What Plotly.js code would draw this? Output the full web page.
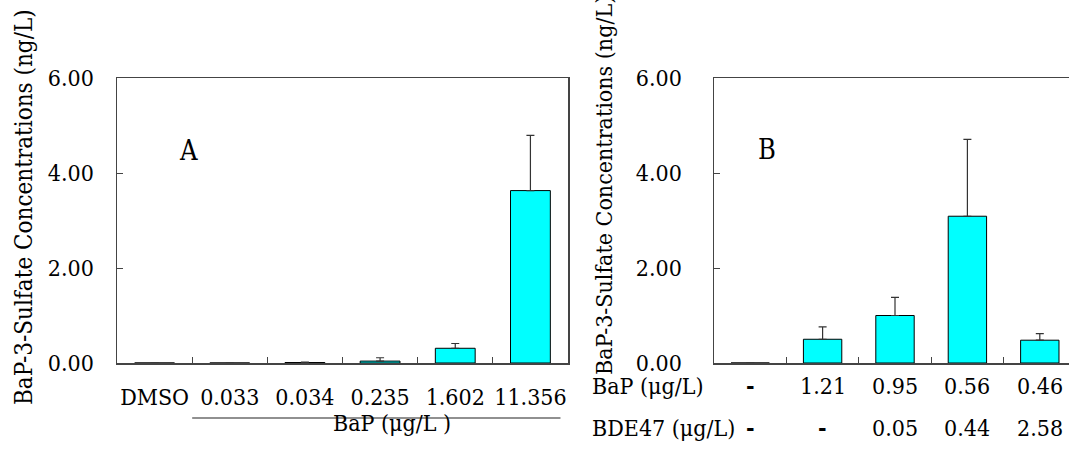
<!DOCTYPE html>
<html>
<head>
<meta charset="utf-8">
<script src="https://cdn.plot.ly/plotly-3.0.1.min.js"></script>
<style>html,body{margin:0;padding:0;background:#fff;}#chart{width:1069px;height:455px;}</style>
</head>
<body>
<div id="chart"></div>
<script>
// Panel A data
const catsA = ["DMSO", "0.033", "0.034", "0.235", "1.602", "11.356"];
const valsA = [0, 0, 0.01, 0.04, 0.31, 3.63];
const errA  = [0, 0, 0.01, 0.07, 0.10, 1.16];

// Panel B data
const bapB   = ["-", "1.21", "0.95", "0.56", "0.46"];
const bdeB   = ["-", "-", "0.05", "0.44", "2.58"];
const valsB  = [0, 0.50, 1.00, 3.09, 0.48];
const errB   = [0, 0.26, 0.38, 1.62, 0.14];

const yTicks = [0, 2, 4, 6];
const yTitle = "BaP-3-Sulfate Concentrations (ng/L)";

const FONT = 'DejaVu Serif Condensed, DejaVu Serif';
const AXC = '#444444';

const idxA = catsA.map((_, i) => i);
const idxB = bapB.map((_, i) => i);

const barStyle = {color: '#00FFFF', line: {color: '#000000', width: 1}};

const traces = [
  {
    type: 'bar', x: idxA, y: valsA, width: 0.53, marker: barStyle,
    error_y: {type: 'data', array: errA, arrayminus: errA.map(() => 0), symmetric: false,
              color: '#333333', thickness: 1.2, width: 4},
    xaxis: 'x', yaxis: 'y', showlegend: false, hoverinfo: 'skip'
  },
  {
    type: 'bar', x: idxB, y: valsB, width: 0.53, marker: barStyle,
    error_y: {type: 'data', array: errB, arrayminus: errB.map(() => 0), symmetric: false,
              color: '#333333', thickness: 1.2, width: 4},
    xaxis: 'x2', yaxis: 'y2', showlegend: false, hoverinfo: 'skip'
  }
];

const H = 455, W = 1069;
const px = v => v / W;
const py = v => (H - v) / H;

const txt = (size) => ({family: FONT, size: size, color: '#000'});

const yCommon = {
  range: [0, 6], tickvals: yTicks, tickformat: '.2f',
  ticks: 'inside', ticklen: 6, tickcolor: AXC, tickwidth: 1,
  showline: true, linecolor: AXC, linewidth: 1.5,
  showgrid: false, zeroline: false,
  tickfont: txt(23),
  domain: [py(363), py(78)]
};

const annotations = [];
annotations.push({text: 'A', x: px(177), y: py(133), xref: 'paper', yref: 'paper',
  showarrow: false, font: txt(27)});
annotations.push({text: 'B', x: px(778), y: py(132), xref: 'paper', yref: 'paper',
  showarrow: false, font: txt(27)});
annotations.push({text: yTitle, x: px(24), y: py(207), xref: 'paper', yref: 'paper',
  textangle: -90, showarrow: false, xanchor: 'center', yanchor: 'middle', font: txt(24)});
annotations.push({text: yTitle, x: px(604), y: py(186), xref: 'paper', yref: 'paper',
  textangle: -90, showarrow: false, xanchor: 'center', yanchor: 'middle', font: txt(23)});
annotations.push({text: 'BaP (μg/L )', x: px(392), y: py(438), xref: 'paper', yref: 'paper',
  showarrow: false, font: txt(23)});
annotations.push({text: 'BaP (μg/L)', x: px(590), y: py(401), xref: 'paper', yref: 'paper',
  xanchor: 'left', showarrow: false, font: txt(23)});
annotations.push({text: 'BDE47 (μg/L)', x: px(590), y: py(443), xref: 'paper', yref: 'paper',
  xanchor: 'left', showarrow: false, font: txt(23)});
bapB.forEach((t, i) => annotations.push({text: t === '-' ? '<b>-</b>' : t, x: i, y: py(401),
  xref: 'x2', yref: 'paper', showarrow: false, font: txt(23)}));
bdeB.forEach((t, i) => annotations.push({text: t === '-' ? '<b>-</b>' : t, x: i, y: py(443),
  xref: 'x2', yref: 'paper', showarrow: false, font: txt(23)}));

const layout = {
  width: W, height: H,
  margin: {l: 0, r: 0, t: 0, b: 0},
  paper_bgcolor: '#fff', plot_bgcolor: '#fff',
  bargap: 0,
  font: {family: FONT},
  xaxis: {
    domain: [px(117), px(568)], range: [-0.5, catsA.length - 0.5],
    tickvals: idxA, ticktext: catsA, ticks: '', ticklabelstandoff: 13,
    tickfont: txt(23),
    minor: {tickvals: idxA.slice(1).map(i => i - 0.5), ticks: 'inside', ticklen: 6, tickcolor: AXC, tickwidth: 1},
    showline: true, linecolor: AXC, linewidth: 1.5, mirror: true,
    showgrid: false, zeroline: false, anchor: 'y'
  },
  yaxis: Object.assign({}, yCommon, {anchor: 'x', mirror: true, ticklabelstandoff: 17}),
  xaxis2: {
    domain: [px(714), 1], range: [-0.5, -0.5 + (1069 - 714) / 72.4],
    tickvals: idxB, showticklabels: false, ticks: '',
    minor: {tickvals: idxB.slice(1).map(i => i - 0.5), ticks: 'inside', ticklen: 6, tickcolor: AXC, tickwidth: 1},
    showline: true, linecolor: AXC, linewidth: 1.5, mirror: true,
    showgrid: false, zeroline: false, anchor: 'y2'
  },
  yaxis2: Object.assign({}, yCommon, {anchor: 'x2', mirror: false, ticklabelstandoff: 26}),
  shapes: [
    {type: 'line', xref: 'x', yref: 'paper', x0: 0.5, x1: 5.4, y0: py(418), y1: py(418),
     line: {color: '#222', width: 1.2}}
  ],
  annotations: annotations
};

Plotly.newPlot('chart', traces, layout, {staticPlot: true, displayModeBar: false});
</script>
</body>
</html>
